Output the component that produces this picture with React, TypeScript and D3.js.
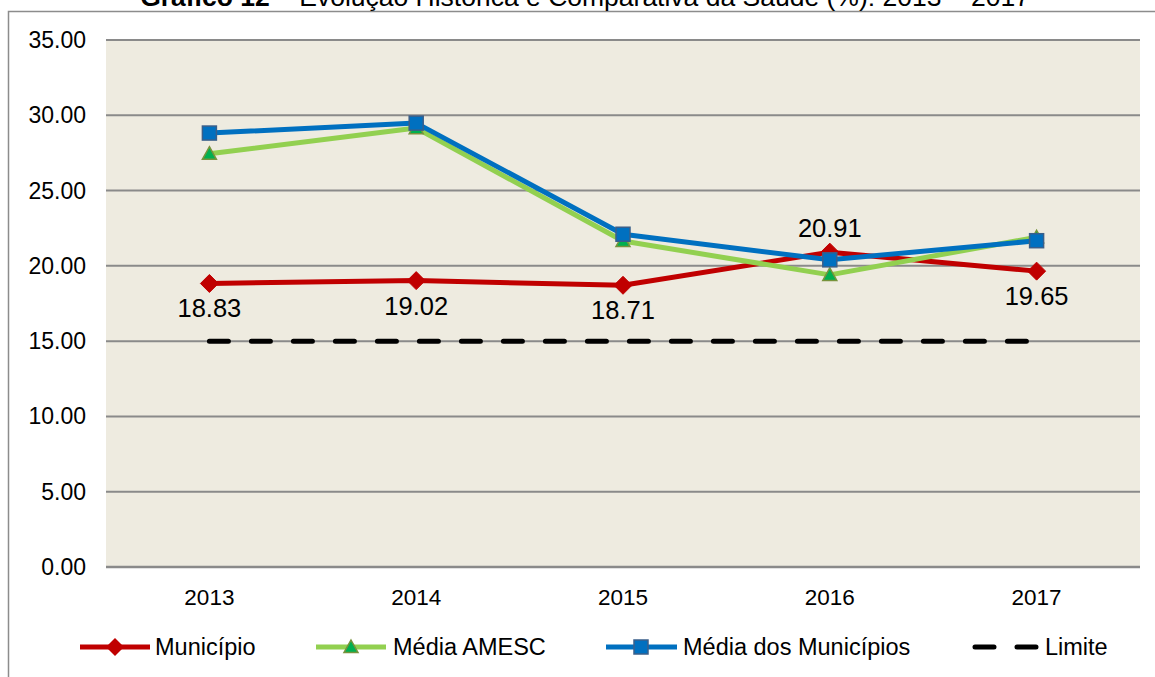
import React from "react";
import * as d3 from "d3";

const years = ["2013", "2014", "2015", "2016", "2017"];
const municipio = [18.83, 19.02, 18.71, 20.91, 19.65];
const mediaAmesc = [27.45, 29.15, 21.65, 19.4, 21.9];
const mediaMunicipios = [28.82, 29.48, 22.1, 20.4, 21.67];
const limite = [15, 15, 15, 15, 15];
const yTicks = [0, 5, 10, 15, 20, 25, 30, 35];
const labelAbove = [false, false, false, true, false];

const W = 1155;
const H = 677;
const plotL = 106;
const plotR = 1140;
const plotT = 40;
const plotB = 567;

const FONT = "'Liberation Sans', Arial, sans-serif";
const RED = "#C00000";
const GREEN = "#92D050";
const BLUE = "#0070C0";

export default function App() {
  const x = d3.scaleBand<string>().domain(years).range([plotL, plotR]).paddingInner(0).paddingOuter(0);
  const cx = (d: string) => (x(d) as number) + x.bandwidth() / 2;
  const y = d3.scaleLinear().domain([0, 35]).range([plotB, plotT]);
  const line = d3
    .line<number>()
    .x((_, i) => cx(years[i]))
    .y((v) => y(v));

  const diamond = (px: number, py: number, r: number) =>
    `M${px},${py - r}L${px + r},${py}L${px},${py + r}L${px - r},${py}Z`;
  const triangle = (px: number, py: number, r: number) =>
    `M${px},${py - r}L${px + r},${py + r * 0.8}L${px - r},${py + r * 0.8}Z`;

  const legendY = 647;
  const legFont = 23.5;

  return (
    <svg
      width={W}
      height={H}
      style={{ position: "absolute", left: 0, top: 0, background: "#fff" }}
      fontFamily={FONT}
    >
      <rect x={0} y={0} width={W} height={H} fill="#fff" />
      {/* outer frame */}
      <rect x={8.5} y={11.5} width={W + 20} height={H + 20} fill="none" stroke="#8c8c8c" strokeWidth={1.5} />
      {/* title */}
      <text x={585} y={5.5} textAnchor="middle" fontSize={26.5} fill="#000">
        <tspan fontWeight="bold">Gráfico 12</tspan>
        <tspan> – Evolução Histórica e Comparativa da Saúde (%): 2013 – 2017</tspan>
      </text>
      {/* plot bg */}
      <rect x={plotL} y={plotT} width={plotR - plotL} height={plotB - plotT} fill="#EEEBE0" />
      {/* gridlines */}
      {yTicks.map((t) => (
        <line key={t} x1={plotL} x2={plotR} y1={y(t)} y2={y(t)} stroke="#8a8a8a" strokeWidth={t === 0 ? 2.5 : 2} />
      ))}
      {/* y tick labels */}
      {yTicks.map((t) => (
        <text key={"l" + t} x={86} y={y(t)} dy="0.35em" textAnchor="end" fontSize={23} fill="#000">
          {t.toFixed(2)}
        </text>
      ))}
      {/* x labels */}
      {years.map((yr) => (
        <text key={yr} x={cx(yr)} y={597} dy="0.35em" textAnchor="middle" fontSize={22.5} fill="#000">
          {yr}
        </text>
      ))}
      {/* limite */}
      <path d={line(limite) || ""} fill="none" stroke="#000" strokeWidth={5} strokeDasharray="19 23" strokeLinecap="round" />
      {/* municipio */}
      <path d={line(municipio) || ""} fill="none" stroke={RED} strokeWidth={5} strokeLinejoin="round" />
      {/* media amesc */}
      <path d={line(mediaAmesc) || ""} fill="none" stroke={GREEN} strokeWidth={5} strokeLinejoin="round" />
      {/* media municipios */}
      <path d={line(mediaMunicipios) || ""} fill="none" stroke={BLUE} strokeWidth={5} strokeLinejoin="round" />
      {/* markers */}
      {municipio.map((v, i) => (
        <path key={"m" + i} d={diamond(cx(years[i]), y(v), 9)} fill={RED} stroke={RED} strokeWidth={1} />
      ))}
      {mediaAmesc.map((v, i) => (
        <path key={"a" + i} d={triangle(cx(years[i]), y(v), 7)} fill="#00B050" stroke="#77933C" strokeWidth={1.5} />
      ))}
      {mediaMunicipios.map((v, i) => (
        <rect key={"b" + i} x={cx(years[i]) - 7} y={y(v) - 7} width={14} height={14} fill={BLUE} stroke="#3A5F8A" strokeWidth={1.5} />
      ))}
      {/* data labels */}
      {municipio.map((v, i) => (
        <text
          key={"dl" + i}
          x={cx(years[i])}
          y={y(v) + (labelAbove[i] ? -24 : 25)}
          dy="0.35em"
          textAnchor="middle"
          fontSize={25.5}
          fill="#000"
        >
          {v.toFixed(2)}
        </text>
      ))}
      {/* legend */}
      <g>
        <line x1={80} x2={150} y1={legendY} y2={legendY} stroke={RED} strokeWidth={5} />
        <path d={diamond(115, legendY, 9)} fill={RED} />
        <text x={155} y={legendY} dy="0.35em" fontSize={legFont}>Município</text>

        <line x1={316} x2={386} y1={legendY} y2={legendY} stroke={GREEN} strokeWidth={5} />
        <path d={triangle(351, legendY, 7)} fill="#00B050" stroke="#77933C" strokeWidth={1.5} />
        <text x={393} y={legendY} dy="0.35em" fontSize={legFont}>Média AMESC</text>

        <line x1={606} x2={677} y1={legendY} y2={legendY} stroke={BLUE} strokeWidth={5} />
        <rect x={634} y={legendY - 7} width={14} height={14} fill={BLUE} stroke="#3A5F8A" strokeWidth={1.5} />
        <text x={683} y={legendY} dy="0.35em" fontSize={legFont}>Média dos Municípios</text>

        <line x1={975} x2={1037} y1={legendY} y2={legendY} stroke="#000" strokeWidth={5} strokeDasharray="19 23" strokeLinecap="round" />
        <text x={1045} y={legendY} dy="0.35em" fontSize={legFont}>Limite</text>
      </g>
    </svg>
  );
}
